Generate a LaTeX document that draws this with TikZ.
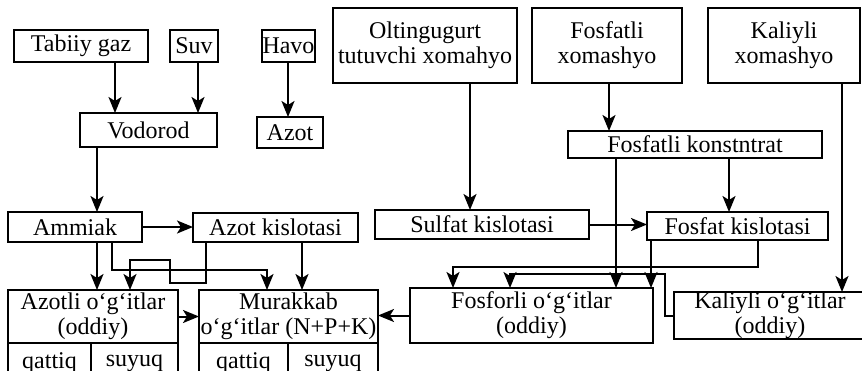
\documentclass[tikz,border=0pt]{standalone}
\usepackage{fontspec}
\setmainfont{Liberation Serif}
\usetikzlibrary{positioning,arrows.meta,calc}

\begin{document}
\begin{tikzpicture}[
    x=0.5pt, y=-0.5pt,
    font=\fontsize{12}{12.5}\selectfont,
    blk/.style={draw, line width=1pt, align=center, inner sep=0pt, outer sep=0pt},
    cell/.style={blk, minimum height=20pt},
    op/.style={-{Stealth[length=8pt, width=6.5pt, inset=2pt]}, line width=1pt},
  ]
  \useasboundingbox (0,0) rectangle (862,370);

  % --- raw materials (top row) ---
  \node[blk, minimum width=67pt, minimum height=16pt] (tabiiy) at (81,46) {Tabiiy gaz};
  \node[blk, minimum width=24pt, minimum height=16pt] (suv) at (194,46) {Suv};
  \node[blk, minimum width=26.5pt, minimum height=16pt] (havo) at (288.5,46) {Havo};
  \node[blk, minimum width=92pt, minimum height=37.5pt] (oltin) at (425,45.5) {Oltingugurt\\tutuvchi xomahyo};
  \node[blk, minimum width=75pt, minimum height=37.5pt] (fosxom) at (607,45.5) {Fosfatli\\xomashyo};
  \node[blk, minimum width=76pt, minimum height=37.5pt] (kalxom) at (784,45.5) {Kaliyli\\xomashyo};

  % --- intermediates ---
  \node[blk, minimum width=68.5pt, minimum height=17pt] (vodorod) at (148.5,130) {Vodorod};
  \node[blk, minimum width=33pt, minimum height=15.5pt] (azot) at (290,132.5) {Azot};
  \node[blk, minimum width=127pt, minimum height=13.5pt] (konsent) at (695,144.5) {Fosfatli konstntrat};

  % --- acids (middle row) ---
  \node[blk, minimum width=67pt, minimum height=15pt] (ammiak) at (75,227) {Ammiak};
  \node[blk, minimum width=82.5pt, minimum height=14.5pt] (azotkis) at (275.5,227.5) {Azot kislotasi};
  \node[blk, minimum width=107pt, minimum height=14.5pt] (sulfat) at (482,224.5) {Sulfat kislotasi};
  \node[blk, minimum width=90.5pt, minimum height=14pt] (fosfatkis) at (737.5,226) {Fosfat kislotasi};

  % --- fertilizers (bottom row) ---
  \node[blk, minimum width=85pt, minimum height=26.5pt] (azotli) at (93,316.5) {Azotli o‘g‘itlar\\(oddiy)};
  \node[blk, minimum width=89.5pt, minimum height=26.5pt] (murakkab) at (288.5,316.5) {Murakkab\\o‘g‘itlar (N+P+K)};
  \node[blk, minimum width=121.5pt, minimum height=27.5pt] (fosforli) at (531.5,315.5) {Fosforli o‘g‘itlar\\(oddiy)};
  \node[blk, minimum width=96pt, minimum height=23.5pt] (kaliyli) at (770,315.5) {Kaliyli o‘g‘itlar\\(oddiy)};

  % --- solid / liquid cells ---
  \node[cell, minimum width=41.5pt, anchor=north west] (azq) at (azotli.south west) {qattiq};
  \node[cell, minimum width=43.5pt, right=0pt of azq] (azs) {suyuq};
  \node[cell, minimum width=44.5pt, anchor=north west] (muq) at (murakkab.south west) {qattiq};
  \node[cell, minimum width=45pt, right=0pt of muq] (mus) {suyuq};

  % --- arrows: nitrogen branch ---
  \draw[op] (tabiiy.south -| 115,0) -- (vodorod.north -| 115,0);
  \draw[op] (suv.south -| 198,0) -- (vodorod.north -| 198,0);
  \draw[op] (havo.south -| 288,0) -- (azot.north -| 288,0);
  \draw[op] (vodorod.south -| 97,0) -- (ammiak.north -| 97,0);
  \draw[op] (ammiak.east) -- (azotkis.west |- ammiak.east);
  \draw[op] (ammiak.south -| 97,0) -- (azotli.north -| 97,0);
  \draw[op] (ammiak.south -| 112,0) -- (112,270) -| (murakkab.north -| 267,0);
  \draw[op] (azotkis.south -| 206,0) |- (170,283) |- (130,260) -- (azotli.north -| 130,0);
  \draw[op] (azotkis.south -| 302,0) -- (murakkab.north -| 302,0);
  \draw[op] (azotli.east) -- (murakkab.west);

  % --- arrows: phosphorus / potassium branch ---
  \draw[op] (oltin.south -| 470,0) -- (sulfat.north -| 470,0);
  \draw[op] (fosxom.south -| 609,0) -- (konsent.north -| 609,0);
  \draw[op] (konsent.south -| 729,0) -- (fosfatkis.north -| 729,0);
  \draw[op] (konsent.south -| 616,0) -- (fosforli.north -| 616,0);
  \draw[op] (sulfat.east) -- (sulfat.east -| fosfatkis.west);
  \draw[op] (fosfatkis.south -| 651,0) -- (fosforli.north -| 651,0);
  \draw[op] (fosfatkis.south -| 758,0) -- (758,267) -| (fosforli.north -| 453,0);
  \draw[op] (kaliyli.west) -| (665,274) -| (fosforli.north -| 510,0);
  \draw[op] (kalxom.south -| 842,0) -- (kaliyli.north -| 842,0);
  \draw[op] (fosforli.west) -- (fosforli.west -| murakkab.east);
\end{tikzpicture}
\end{document}
